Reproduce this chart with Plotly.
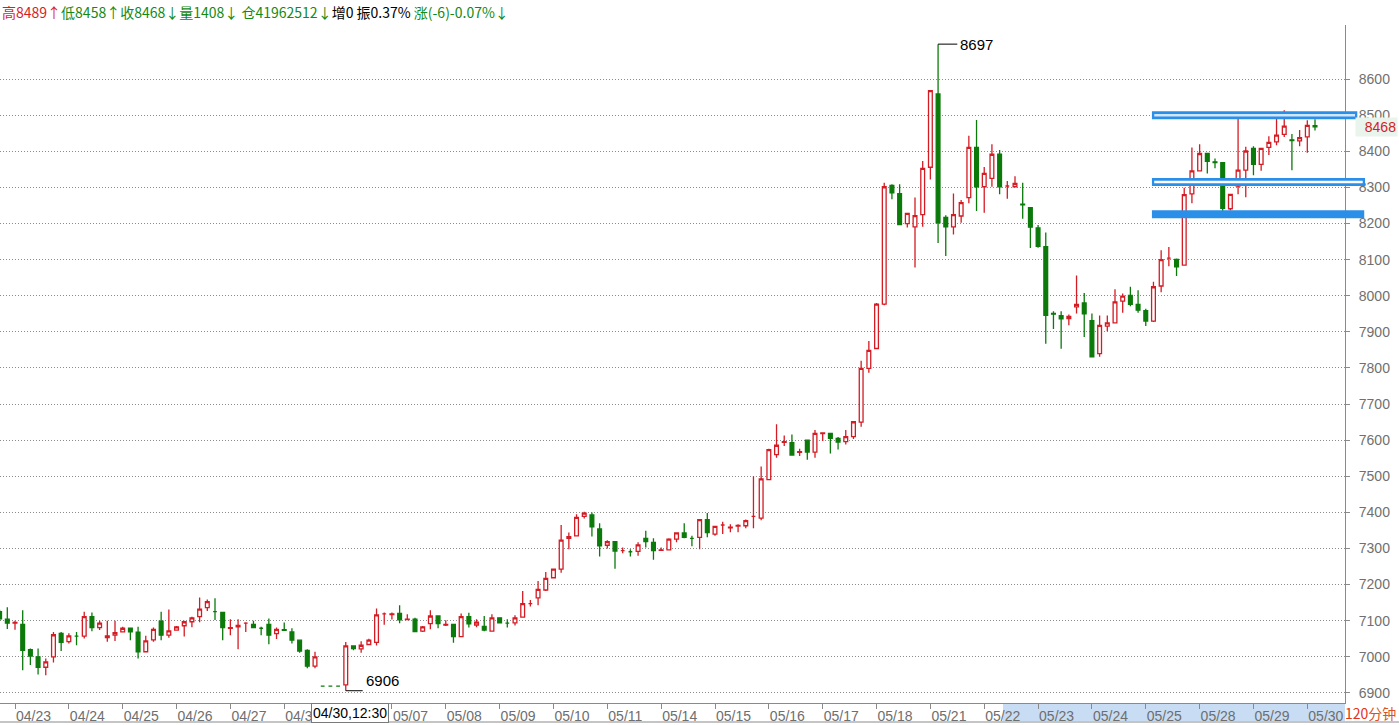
import plotly.graph_objects as go

# ---------------- data (120-minute bars) ----------------
opens = [7125, 7104, 7093, 7090, 7020, 7000, 6971, 7000, 7065, 7042,
         7057, 7057, 7111, 7081, 7053, 7060, 7069, 7079, 7068, 7014,
         7047, 7099, 7060, 7074, 7086, 7097, 7111, 7136, 7125, 7123,
         7079, 7083, 7093, 7090, 7079, 7090, 7064, 7075, 7069, 7046,
         7018, 6974, 6919, 6919, 6919, 6922, 7030, 7022, 7034, 7040,
         7119, 7117, 7120, 7103, 7104, 7071, 7092, 7113, 7088, 7090,
         7056, 7111, 7088, 7084, 7071, 7108, 7093, 7094, 7110, 7147,
         7163, 7185, 7219, 7243, 7328, 7335, 7389, 7393, 7354, 7309,
         7319, 7294, 7291, 7292, 7328, 7317, 7295, 7296, 7326, 7343,
         7328, 7331, 7380, 7340, 7365, 7357, 7362, 7363, 7389, 7384,
         7491, 7560, 7594, 7593, 7566, 7600, 7567, 7618, 7619, 7605,
         7596, 7610, 7650, 7799, 7854, 7977, 8306, 8283, 8200, 8191,
         8225, 8356, 8559, 8217, 8191, 8221, 8272, 8411, 8302, 8325,
         8392, 8304, 8302, 8254, 8244, 8188, 8136, 7951, 7945, 7937,
         7969, 7980, 7931, 7840, 7916, 7925, 7985, 8001, 7976, 7959,
         7930, 8027, 8104, 8101, 8085, 8282, 8346, 8394, 8371, 8369,
         8241, 8304, 8348, 8408, 8364, 8411, 8426, 8447, 8432, 8429,
         8440, 8471]
highs = [7130, 7137, 7100, 7129, 7023, 7023, 6995, 7069, 7069, 7065,
         7069, 7125, 7123, 7100, 7100, 7100, 7083, 7079, 7083, 7058,
         7081, 7125, 7131, 7085, 7100, 7111, 7164, 7159, 7162, 7125,
         7104, 7104, 7096, 7100, 7083, 7106, 7081, 7095, 7079, 7046,
         7021, 7014, 6919, 6919, 6919, 7041, 7032, 7043, 7050, 7134,
         7123, 7123, 7143, 7118, 7108, 7085, 7129, 7115, 7101, 7090,
         7120, 7122, 7104, 7113, 7118, 7108, 7104, 7115, 7182, 7157,
         7210, 7235, 7243, 7365, 7344, 7395, 7402, 7400, 7370, 7323,
         7321, 7303, 7298, 7317, 7349, 7328, 7303, 7328, 7343, 7370,
         7335, 7380, 7398, 7361, 7374, 7367, 7367, 7380, 7500, 7527,
         7576, 7644, 7613, 7616, 7576, 7600, 7628, 7621, 7619, 7609,
         7628, 7653, 7820, 7875, 7980, 8313, 8309, 8309, 8230, 8272,
         8373, 8568, 8697, 8223, 8283, 8265, 8443, 8487, 8357, 8420,
         8404, 8318, 8331, 8313, 8244, 8196, 8175, 7957, 7957, 7948,
         8056, 8008, 7951, 7945, 7945, 8018, 8006, 8025, 8015, 7964,
         8039, 8126, 8135, 8103, 8299, 8411, 8420, 8394, 8380, 8369,
         8281, 8509, 8413, 8414, 8408, 8442, 8500, 8514, 8448, 8459,
         8486, 8489]
lows = [7100, 7077, 7075, 6963, 6977, 6951, 6949, 6984, 7016, 7037,
        7032, 7051, 7071, 7074, 7042, 7044, 7067, 7046, 6995, 7014,
        7042, 7046, 7053, 7074, 7056, 7082, 7096, 7127, 7102, 7046,
        7060, 7021, 7069, 7079, 7060, 7035, 7049, 7072, 7037, 7011,
        6968, 6968, 6919, 6919, 6919, 6906, 7018, 7011, 7032, 7031,
        7089, 7103, 7093, 7102, 7068, 7069, 7076, 7079, 7085, 7039,
        7056, 7081, 7082, 7071, 7071, 7094, 7081, 7087, 7110, 7139,
        7143, 7182, 7219, 7233, 7298, 7335, 7383, 7333, 7278, 7300,
        7244, 7287, 7278, 7280, 7303, 7269, 7295, 7295, 7317, 7328,
        7306, 7298, 7331, 7335, 7340, 7345, 7345, 7356, 7356, 7378,
        7489, 7551, 7584, 7559, 7556, 7546, 7551, 7598, 7563, 7574,
        7588, 7603, 7637, 7787, 7852, 7974, 8267, 8197, 8189, 8078,
        8191, 8322, 8146, 8110, 8170, 8202, 8256, 8235, 8230, 8302,
        8281, 8269, 8302, 8213, 8132, 8133, 7867, 7908, 7853, 7918,
        7951, 7886, 7831, 7831, 7902, 7925, 7953, 7971, 7953, 7916,
        7927, 8010, 8082, 8055, 8085, 8256, 8344, 8339, 8353, 8218,
        8236, 8281, 8273, 8334, 8346, 8390, 8417, 8440, 8348, 8414,
        8396, 8458]
closes = [7105, 7093, 7095, 7018, 7002, 6971, 6986, 7061, 7040, 7058,
          7057, 7111, 7081, 7093, 7058, 7067, 7079, 7069, 7014, 7044,
          7076, 7060, 7072, 7083, 7097, 7108, 7132, 7153, 7125, 7081,
          7081, 7087, 7093, 7081, 7079, 7060, 7076, 7073, 7046, 7016,
          6974, 7000, 6919, 6919, 6919, 7030, 7023, 7032, 7046, 7116,
          7119, 7119, 7102, 7104, 7070, 7083, 7113, 7092, 7090, 7056,
          7111, 7091, 7096, 7074, 7108, 7094, 7093, 7108, 7147, 7147,
          7187, 7217, 7243, 7323, 7333, 7386, 7398, 7360, 7307, 7319,
          7293, 7294, 7291, 7310, 7319, 7294, 7296, 7326, 7343, 7331,
          7328, 7380, 7344, 7361, 7365, 7359, 7364, 7377, 7389, 7493,
          7574, 7586, 7596, 7559, 7568, 7567, 7619, 7620, 7605, 7595,
          7610, 7651, 7799, 7849, 7977, 8302, 8285, 8197, 8228, 8222,
          8353, 8568, 8202, 8191, 8225, 8258, 8411, 8302, 8339, 8392,
          8302, 8304, 8311, 8252, 8190, 8137, 7946, 7949, 7936, 7943,
          7976, 7950, 7831, 7918, 7925, 7983, 7999, 7976, 7960, 7930,
          8025, 8100, 8104, 8080, 8280, 8346, 8394, 8372, 8369, 8242,
          8281, 8348, 8401, 8364, 8408, 8425, 8445, 8470, 8430, 8438,
          8472, 8468]

date_ticks = [2, 9, 16, 23, 30, 37, 51, 58, 65, 72, 79, 86, 93, 100, 107,
              114, 121, 128, 135, 142, 149, 156, 163, 170]
date_labels = ["04/23", "04/24", "04/25", "04/26", "04/27", "04/30", "05/07",
               "05/08", "05/09", "05/10", "05/11", "05/14", "05/15", "05/16",
               "05/17", "05/18", "05/21", "05/22", "05/23", "05/24", "05/25",
               "05/28", "05/29", "05/30"]
price_ticks = list(range(6900, 8700, 100))

support_levels = [8500, 8315, 8226]   # drawn horizontal lines
line_start_bar = 149.8
line_end_bars = [176.5, 177.5, 177.4]

RED = "#d41c24"
GREEN = "#0b7a0b"
X_RANGE = [0.05, 174.9]
Y_RANGE = [6872, 8750]

idx = list(range(len(opens)))

fig = go.Figure()
fig.add_trace(go.Candlestick(
    x=idx, open=opens, high=highs, low=lows, close=closes,
    increasing=dict(line=dict(color=RED, width=1.3), fillcolor="white"),
    decreasing=dict(line=dict(color=GREEN, width=1.3), fillcolor=GREEN),
    whiskerwidth=0, showlegend=False, hoverinfo="skip",
))

def to_paper(bar):
    return (bar - X_RANGE[0]) / (X_RANGE[1] - X_RANGE[0])

shapes = []
annotations = []

# drawn horizontal lines
styles = [("#2a8fe8", "#cfe6fb"), ("#2a8fe8", "white"), ("#2a8fe8", None)]
for lvl, xe, (outer, inner) in zip(support_levels, line_end_bars, styles):
    shapes.append(dict(type="line", xref="paper", yref="y",
                       x0=to_paper(line_start_bar), x1=to_paper(xe), y0=lvl, y1=lvl,
                       line=dict(color=outer, width=8), layer="above"))
    if inner:
        shapes.append(dict(type="line", xref="paper", yref="y",
                           x0=to_paper(line_start_bar + 0.3), x1=to_paper(xe - 0.3),
                           y0=lvl, y1=lvl, line=dict(color=inner, width=2.5), layer="above"))

# max / min markers
imax = highs.index(max(highs))
imin = lows.index(min(lows))
shapes.append(dict(type="line", xref="x", yref="y", x0=imax, x1=imax + 2.5,
                   y0=highs[imax], y1=highs[imax], line=dict(color="black", width=1)))
annotations.append(dict(x=imax + 2.6, y=highs[imax], xref="x", yref="y",
                        text=str(highs[imax]), showarrow=False, xanchor="left",
                        yanchor="middle", font=dict(size=15, color="black",
                                                    family="Arial, Liberation Sans")))
shapes.append(dict(type="line", xref="x", yref="y", x0=imin, x1=imin + 2.2,
                   y0=lows[imin], y1=lows[imin], line=dict(color="black", width=1)))
annotations.append(dict(x=imin + 2.4, y=lows[imin], xref="x", yref="y",
                        text=str(lows[imin]), showarrow=False, xanchor="left",
                        yanchor="bottom", font=dict(size=15, color="black",
                                                    family="Arial, Liberation Sans")))

PLOT_H = 725 - 25 - 22
def py(px):  # pixel offset below the plot bottom -> paper y
    return -px / PLOT_H

# x-axis strip: selection highlight and bottom border
shapes.append(dict(type="rect", xref="paper", yref="paper",
                   x0=1003 / 1345, x1=1.0, y0=py(18), y1=py(1),
                   fillcolor="#c8ddf3", line=dict(width=0), layer="below"))
shapes.append(dict(type="line", xref="paper", yref="paper",
                   x0=0, x1=1399 / 1345, y0=py(19), y1=py(19),
                   line=dict(color="#8a8a8a", width=1)))

# cursor date box
annotations.append(dict(x=45.6, y=py(9.5), xref="x", yref="paper",
                        text="04/30,12:30", showarrow=False, xanchor="center",
                        yanchor="middle", bgcolor="white", bordercolor="#7a7a7a",
                        borderwidth=1, borderpad=1,
                        font=dict(size=14, color="black", family="Arial, Liberation Sans")))

# period label
annotations.append(dict(x=1398 / 1345, y=py(9.5), xref="paper", yref="paper",
                        text="<span style='color:#e2321c'>120</span><span style='color:#d9531e'>分钟</span>",
                        showarrow=False, xanchor="right", yanchor="middle",
                        font=dict(size=14, family="Noto Sans CJK SC")))

# last price tag
annotations.append(dict(x=1398 / 1345, y=closes[-1], xref="paper", yref="y",
                        text="  " + str(closes[-1]), showarrow=False, xanchor="right",
                        yanchor="middle", bgcolor="#e9f4ec", borderpad=1,
                        font=dict(size=14, color=RED, family="Arial, Liberation Sans")))

# header
hdr = ("<span style='color:#d81e1e'>高8489↑</span>"
       "<span style='color:#138a13'>低8458↑收8468↓量1408↓ 仓41962512↓</span>"
       "<span style='color:#000'>增0 振0.37% </span>"
       "<span style='color:#138a13'>涨(-6)-0.07%↓</span>")
annotations.append(dict(x=0, y=1 + 13 / PLOT_H, xref="paper", yref="paper", text=hdr,
                        showarrow=False, xanchor="left", yanchor="middle",
                        font=dict(size=14, family="Noto Sans CJK SC")))

fig.update_layout(
    width=1399, height=725,
    margin=dict(l=0, r=54, t=25, b=22),
    paper_bgcolor="white", plot_bgcolor="white",
    shapes=shapes, annotations=annotations,
    showlegend=False,
    xaxis=dict(range=X_RANGE, rangeslider=dict(visible=False), showgrid=False,
               zeroline=False, tickmode="array", tickvals=date_ticks, ticktext=date_labels,
               ticks="outside", ticklen=5, tickcolor="#8a8a8a", ticklabelposition="outside right",
               tickfont=dict(size=14, color="#6e6e6e", family="Arial, Liberation Sans"),
               showline=True, linecolor="#8a8a8a", linewidth=1),
    yaxis=dict(range=Y_RANGE, side="right", tickmode="array", tickvals=price_ticks,
               showgrid=True, gridcolor="#8c8c8c", griddash="1px,2px", gridwidth=1,
               zeroline=False, ticks="outside", ticklen=4, tickcolor="#8a8a8a",
               ticklabelstandoff=6,
               tickfont=dict(size=14, color="#707070", family="Arial, Liberation Sans"),
               showline=True, linecolor="#8a8a8a", linewidth=1),
)

fig.write_html("out.html", config={"displayModeBar": False},
               post_script="document.body.style.margin='0';")
